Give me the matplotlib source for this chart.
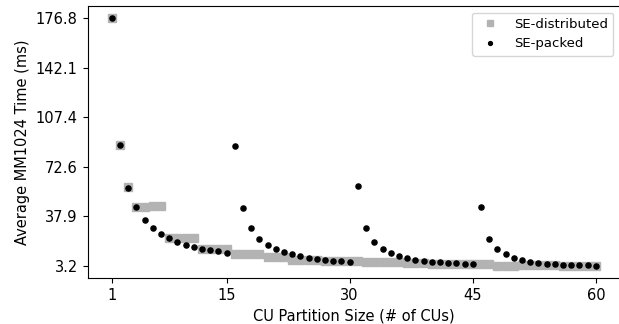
import numpy as np
import matplotlib
matplotlib.use("Agg")
import matplotlib.pyplot as plt

# CU partition sizes 1..60
cu_sizes = list(range(1, 61))

se_distributed = [
    176.8, 88.0, 58.8, 44.7, 44.7, 45.3, 45.3, 22.7, 22.7, 22.7,
    22.7, 15.1, 15.1, 15.1, 15.1, 11.7, 11.7, 11.7, 11.7, 9.4,
    9.4, 9.4, 7.5, 7.5, 7.5, 7.5, 6.7, 6.7, 6.7, 6.7,
    6.7, 5.7, 5.7, 5.7, 5.7, 5.7, 5.2, 5.2, 5.2, 4.3,
    4.3, 4.3, 4.3, 4.3, 4.3, 4.3, 4.3, 3.3, 3.3, 3.3,
    3.8, 3.8, 3.8, 3.8, 3.8, 3.2, 3.2, 3.2, 3.2, 3.2,
]

se_packed = [
    176.8, 88.0, 57.6, 44.5, 35.2, 29.6, 25.4, 22.6, 20.0, 18.2,
    16.5, 15.4, 14.4, 13.5, 12.3, 87.3, 43.8, 29.6, 22.4, 17.9,
    15.1, 13.1, 11.3, 10.0, 9.0, 8.2, 7.5, 6.8, 6.5, 6.2,
    59.1, 29.6, 20.2, 15.4, 12.5, 10.5, 8.7, 7.6, 6.8, 6.1,
    5.7, 5.2, 5.0, 4.8, 4.6, 44.8, 22.3, 14.9, 11.5, 8.8,
    7.3, 6.3, 5.4, 4.9, 4.6, 4.2, 3.9, 3.7, 3.6, 3.5,
]

x_ticks = [1, 15, 30, 45, 60]

FS = 10.5

fig = plt.figure(figsize=(6.19, 3.24), dpi=100)
ax = fig.add_axes([0.1414, 0.141, 0.8603, 0.8404])

ax.plot(cu_sizes, se_distributed, linestyle="none", marker="s", markersize=5.8,
        color="#b3b3b3", label="SE-distributed", zorder=2)
ax.plot(cu_sizes, se_packed, linestyle="none", marker="o", markersize=3.7,
        color="black", label="SE-packed", zorder=3)

lo = min(min(se_distributed), min(se_packed))
hi = max(max(se_distributed), max(se_packed))
yt = np.linspace(lo, hi, 6)
ax.set_yticks(yt)
ax.set_yticklabels([f"{v:.1f}" for v in yt], fontsize=FS)
ax.set_xticks(x_ticks)
ax.set_xticklabels([str(t) for t in x_ticks], fontsize=FS)

ax.set_xlabel("CU Partition Size (# of CUs)", fontsize=FS)
ax.set_ylabel("Average MM1024 Time (ms)", fontsize=FS)
ax.legend(loc="upper right", fontsize=9.5, markerscale=0.75)

fig.savefig("out.png", dpi=100, facecolor="white")
